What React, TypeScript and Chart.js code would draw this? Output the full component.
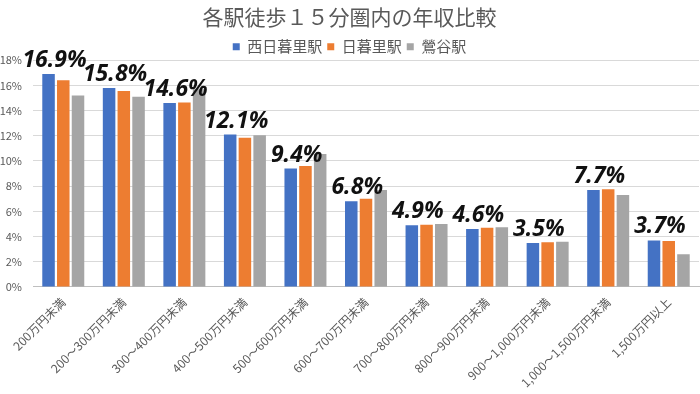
import React, { useEffect, useRef } from "react";
import { Chart, registerables } from "chart.js";

Chart.register(...registerables);

const categories = [
  "200万円未満",
  "200～300万円未満",
  "300～400万円未満",
  "400～500万円未満",
  "500～600万円未満",
  "600～700万円未満",
  "700～800万円未満",
  "800～900万円未満",
  "900～1,000万円未満",
  "1,000～1,500万円未満",
  "1,500万円以上",
];

const seriesNames = ["西日暮里駅", "日暮里駅", "鶯谷駅"];

const nishiNippori = [16.9, 15.8, 14.6, 12.1, 9.4, 6.8, 4.9, 4.6, 3.5, 7.7, 3.7];
const nippori = [16.4, 15.55, 14.65, 11.85, 9.6, 7.0, 4.95, 4.7, 3.55, 7.75, 3.65];
const uguisudani = [15.2, 15.1, 15.7, 12.05, 10.55, 7.7, 5.0, 4.75, 3.6, 7.3, 2.6];

const yTicks = [0, 2, 4, 6, 8, 10, 12, 14, 16, 18];

const colors = ["#4472C4", "#ED7D31", "#A5A5A5"];
const textColor = "#595959";
const jpFont = '"Noto Sans CJK JP", "Noto Sans", sans-serif';

const valueLabelPlugin = {
  id: "valueLabels",
  afterDatasetsDraw(chart: any) {
    const meta = chart.getDatasetMeta(0);
    const ctx = chart.ctx;
    ctx.save();
    ctx.font = 'italic bold 23px "Noto Sans", "DejaVu Sans", sans-serif';
    ctx.fillStyle = "#111111";
    ctx.textAlign = "center";
    ctx.textBaseline = "alphabetic";
    meta.data.forEach((bar: any, i: number) => {
      const v = nishiNippori[i];
      ctx.fillText(v.toFixed(1) + "%", bar.x + 6, bar.y - 7);
    });
    ctx.restore();
  },
};

const legendTrimPlugin = {
  id: "legendTrim",
  beforeInit(chart: any) {
    const legend = chart.legend;
    if (legend && !legend.__trimmed) {
      const origFit = legend.fit;
      legend.fit = function (this: any) {
        origFit.call(this);
        this.height = Math.max(0, this.height - 4);
      };
      legend.__trimmed = true;
    }
  },
};

export default function App() {
  const ref = useRef<HTMLCanvasElement | null>(null);

  useEffect(() => {
    document.body.style.margin = "0";
    const canvas = ref.current;
    if (!canvas) return;
    const data = [nishiNippori, nippori, uguisudani];
    const chart = new Chart(canvas, {
      type: "bar",
      data: {
        labels: categories,
        datasets: seriesNames.map((name, i) => ({
          label: name,
          data: data[i],
          backgroundColor: colors[i],
          borderWidth: 0,
          categoryPercentage: 0.73,
          barPercentage: 0.85,
        })),
      },
      options: {
        responsive: true,
        maintainAspectRatio: false,
        animation: false,
        layout: { padding: { left: 0, right: 1, top: 4, bottom: 4 } },
        plugins: {
          title: {
            display: true,
            text: "各駅徒歩１５分圏内の年収比較",
            color: textColor,
            font: { family: jpFont, size: 21, weight: "normal" },
            padding: { top: 0, bottom: 5 },
          },
          legend: {
            display: true,
            position: "top",
            labels: {
              color: textColor,
              font: { family: jpFont, size: 15 },
              boxWidth: 7,
              boxHeight: 7,
              padding: 5,
            },
          },
          tooltip: { enabled: false },
        },
        scales: {
          x: {
            grid: { display: false },
            border: { display: true, color: "#BFBFBF" },
            ticks: {
              color: textColor,
              font: { family: jpFont, size: 12 },
              minRotation: 45,
              maxRotation: 45,
              autoSkip: false,
              padding: 0,
            },
          },
          y: {
            min: 0,
            max: 18,
            afterBuildTicks: (axis: any) => {
              axis.ticks = yTicks.map((v) => ({ value: v }));
            },
            afterFit: (axis: any) => {
              axis.width = 33;
            },
            grid: { color: "#D9D9D9", drawTicks: false },
            border: { display: false },
            ticks: {
              color: textColor,
              font: { family: jpFont, size: 11 },
              padding: 11,
              callback: (v: any) => v + "%",
            },
          },
        },
      },
      plugins: [legendTrimPlugin, valueLabelPlugin],
    });
    return () => chart.destroy();
  }, []);

  return (
    <div style={{ width: 700, height: 394, position: "relative" }}>
      <canvas ref={ref} />
    </div>
  );
}
